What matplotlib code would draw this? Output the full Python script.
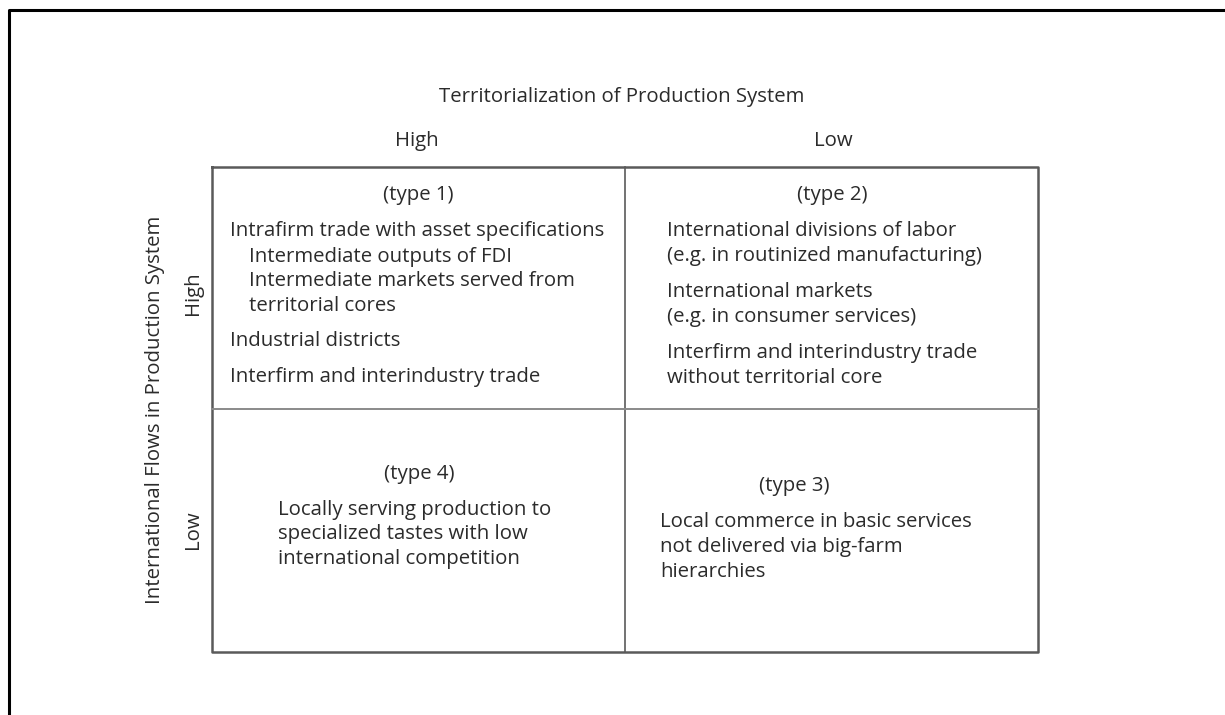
import matplotlib
matplotlib.use("Agg")
import matplotlib.pyplot as plt

title = "Territorialization of Production System"
col_labels = ["High", "Low"]
row_title = "International Flows in Production System"
row_labels = ["High", "Low"]

type_labels = ["(type 1)", "(type 2)", "(type 4)", "(type 3)"]
type1_lines = [
    ("Intrafirm trade with asset specifications", 0),
    ("Intermediate outputs of FDI", 1),
    ("Intermediate markets served from", 1),
    ("territorial cores", 1),
    ("Industrial districts", 0),
    ("Interfirm and interindustry trade", 0),
]
type2_lines = [
    "International divisions of labor",
    "(e.g. in routinized manufacturing)",
    "International markets",
    "(e.g. in consumer services)",
    "Interfirm and interindustry trade",
    "without territorial core",
]
type4_lines = [
    "Locally serving production to",
    "specialized tastes with low",
    "international competition",
]
type3_lines = [
    "Local commerce in basic services",
    "not delivered via big-farm",
    "hierarchies",
]

W, H = 1225, 715
fig = plt.figure(figsize=(W / 100, H / 100), dpi=100)
ax = fig.add_axes([0, 0, 1, 1])
ax.set_xlim(0, W)
ax.set_ylim(H, 0)
ax.axis("off")

font = "Open Sans"
tc = "#2b2b2b"
fs = 14.7

# outer frame (left and top)
ax.plot([9, 9, W], [H, 10, 10], color="black", lw=2.2, solid_capstyle="butt")

# grid box
L, R, T, B = 212, 1038, 167, 652
MX, MY = 625, 409
lc = "#5a5a5a"
ax.plot([L, R, R, L, L], [T, T, B, B, T], color=lc, lw=1.8)
ax.plot([MX, MX], [T, B], color=lc, lw=1.2)
ax.plot([L, R], [MY, MY], color="#8a8a8a", lw=1.4)

ax.text(622, 97, title, ha="center", va="center", fontsize=fs, family=font, color=tc)
ax.text(417, 141, col_labels[0], ha="center", va="center", fontsize=fs, family=font, color=tc)
ax.text(833, 141, col_labels[1], ha="center", va="center", fontsize=fs, family=font, color=tc)
ax.text(155, 410, row_title, ha="center", va="center", rotation=90, fontsize=fs, family=font, color=tc)
ax.text(193, 293, row_labels[0], ha="center", va="center", rotation=90, fontsize=fs, family=font, color=tc)
ax.text(193, 530, row_labels[1], ha="center", va="center", rotation=90, fontsize=fs, family=font, color=tc)

# type 1
ax.text(418, 195, type_labels[0], ha="center", va="center", fontsize=fs, family=font, color=tc)
y1 = [231, 257, 281, 306, 341, 377]
for (s, ind), y in zip(type1_lines, y1):
    ax.text(230 + 19 * ind, y, s, ha="left", va="center", fontsize=fs, family=font, color=tc)

# type 2
ax.text(832, 195, type_labels[1], ha="center", va="center", fontsize=fs, family=font, color=tc)
y2 = [231, 256, 292, 317, 353, 378]
for s, y in zip(type2_lines, y2):
    ax.text(667, y, s, ha="left", va="center", fontsize=fs, family=font, color=tc)

# type 4
ax.text(419, 474, type_labels[2], ha="center", va="center", fontsize=fs, family=font, color=tc)
for i, s in enumerate(type4_lines):
    ax.text(278, 510 + 24.5 * i, s, ha="left", va="center", fontsize=fs, family=font, color=tc)

# type 3
ax.text(794, 486, type_labels[3], ha="center", va="center", fontsize=fs, family=font, color=tc)
for i, s in enumerate(type3_lines):
    ax.text(660, 522 + 25 * i, s, ha="left", va="center", fontsize=fs, family=font, color=tc)

fig.savefig("out.png", dpi=100, facecolor="white")
